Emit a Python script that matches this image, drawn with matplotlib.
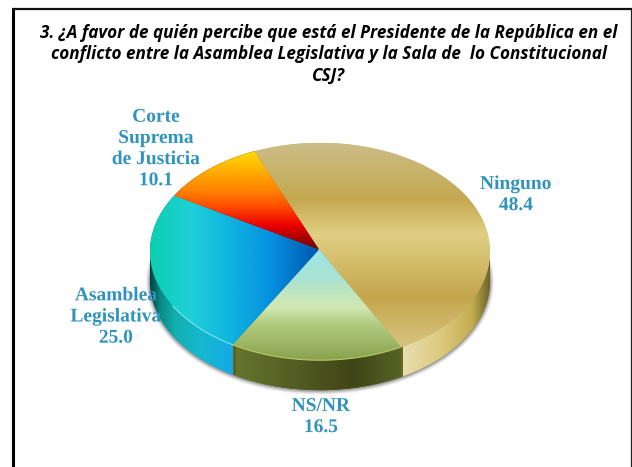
import numpy as np
import matplotlib
matplotlib.use("Agg")
import matplotlib.pyplot as plt
import matplotlib.patheffects as pe
from matplotlib.colors import LinearSegmentedColormap
from matplotlib.patches import Polygon

TITLE = ("3. ¿A favor de quién percibe que está el Presidente de la República en el\n"
         "conflicto entre la Asamblea Legislativa y la Sala de  lo Constitucional\n"
         "CSJ?")
CATEGORIES = ["Ninguno", "NS/NR", "Asamblea\nLegislativa", "Corte\nSuprema\nde Justicia"]
VALUES = [48.4, 16.5, 25.0, 10.1]

CX, CY, RX, RY = 320, 251.5, 170, 108.7
DEPTH = 30
START = 112.7
BLUE = "#2f93bd"

# gradient stops: (axis, range, colours) for top face and side wall
TOP_STYLE = [
    ("y", (143, 360), [(0, "#cbbd86"), (0.26, "#c4a850"), (0.42, "#e0d084"), (0.71, "#c4a64c"), (1, "#dccb8c")]),
    ("y", (249, 360), [(0, "#9fe6ea"), (0.25, "#a8e2d2"), (0.52, "#d2e9b2"), (0.67, "#b2cd82"), (1, "#8aa24e")]),
    ("x", (150, 318), [(0, "#0ccfae"), (0.24, "#1fd0d8"), (0.48, "#10b4e0"), (0.72, "#0590e0"), (1, "#0058b0")]),
    ("y", (150, 249), [(0, "#ffde00"), (0.4, "#ff8400"), (0.55, "#ff5500"), (0.76, "#ee0000"), (1, "#6e0000")]),
]
SIDE_STYLE = [
    ("x", (403, 490), [(0, "#e9deae"), (0.45, "#dcc97c"), (0.8, "#c2aa50"), (1, "#6e6424")]),
    ("x", (236, 403), [(0, "#66742e"), (0.45, "#4e5620"), (0.7, "#3f4516"), (1, "#586426")]),
    ("x", (150, 236), [(0, "#033f3c"), (0.12, "#0a8a85"), (0.3, "#12b0b0"), (0.6, "#18b8d0"), (1, "#14a8e8")]),
    None,
]


def rim(a0, a1, dy=0, n=80):
    t = np.radians(np.linspace(a0, a1, n))
    return np.column_stack([CX + RX * np.cos(t), CY - RY * np.sin(t) + dy])


def gradient_fill(ax, pts, style, zorder):
    axis, (lo, hi), stops = style
    cmap = LinearSegmentedColormap.from_list("g", stops)
    ramp = np.linspace(0, 1, 256)
    if axis == "x":
        img, ext = ramp[None, :], [lo, hi, 467, 0]
    else:
        img, ext = ramp[:, None], [0, 632, hi, lo]
    clip = Polygon(pts, closed=True, transform=ax.transData, fc="none", ec="none")
    ax.add_patch(clip)
    im = ax.imshow(img, cmap=cmap, extent=ext, aspect="auto", zorder=zorder,
                   interpolation="bilinear", vmin=0, vmax=1)
    im.set_clip_path(clip)
    # anything past the ramp ends
    ax.add_patch(Polygon(pts, closed=True, fc=stops[-1][1], ec="none", zorder=zorder - 0.1))


fig = plt.figure(figsize=(6.32, 4.67), dpi=100, facecolor="white")
ax = fig.add_axes([0, 0, 1, 1])

# drop shadow round the lower edge
t = np.radians(np.linspace(0, 360, 200))
for grow, alpha in [(4, 0.07), (3, 0.10), (2, 0.16), (1, 0.24)]:
    ax.add_patch(Polygon(np.column_stack([CX + (RX + grow) * np.cos(t),
                                          CY + DEPTH + 0.5 + (RY + grow) * np.sin(t)]),
                         closed=True, fc="#404040", ec="none", alpha=alpha, zorder=1))

angles = START - np.cumsum([0] + [v / sum(VALUES) * 360 for v in VALUES])

# side wall, front half only
for i in range(len(VALUES)):
    lo, hi = max(angles[i + 1], -180), min(angles[i], 0)
    if hi <= lo:
        continue
    pts = np.vstack([rim(lo, hi), rim(hi, lo, dy=DEPTH)])
    gradient_fill(ax, pts, SIDE_STYLE[i], 2)

# top face
for i in range(len(VALUES)):
    pts = np.vstack([[CX - 1, CY - 2], rim(angles[i], angles[i + 1])])
    gradient_fill(ax, pts, TOP_STYLE[i], 3)

# thin highlights on the front rim
front = rim(angles[1], angles[2])
ax.plot(front[:, 0], front[:, 1], color="#b8c860", lw=0.8, zorder=4)
front = rim(angles[2], -150)
ax.plot(front[:, 0], front[:, 1], color="#7ae8f0", lw=0.8, zorder=4)

# frame, open at the bottom
ax.plot([12.5, 12.5], [467, 8.5], color="black", lw=2.2, solid_capstyle="butt", zorder=6)
ax.plot([11.5, 632], [9, 9], color="#111111", lw=1.6, solid_capstyle="butt", zorder=6)
ax.plot([631.2, 631.2], [9, 467], color="#222222", lw=0.9, solid_capstyle="butt", zorder=6)

ax.text(329, 54, TITLE, ha="center", va="center", fontsize=12.3, linespacing=1.24,
        family="Open Sans", fontweight="bold", style="italic", color="black", zorder=7)

label_pos = [(516, 195), (321, 417), (116, 317), (156, 149)]
for name, val, (x, y) in zip(CATEGORIES, VALUES, label_pos):
    ax.text(x, y, f"{name}\n{val:.1f}", ha="center", va="center", fontsize=14, linespacing=1.32,
            family="Liberation Serif", fontweight="bold", color=BLUE, zorder=7,
            path_effects=[pe.SimpleLineShadow(offset=(0.6, -0.6), alpha=0.4, shadow_color="#333333"), pe.Normal()])

ax.set_xlim(0, 632)
ax.set_ylim(467, 0)
ax.axis("off")
fig.savefig("out.png", dpi=100)
